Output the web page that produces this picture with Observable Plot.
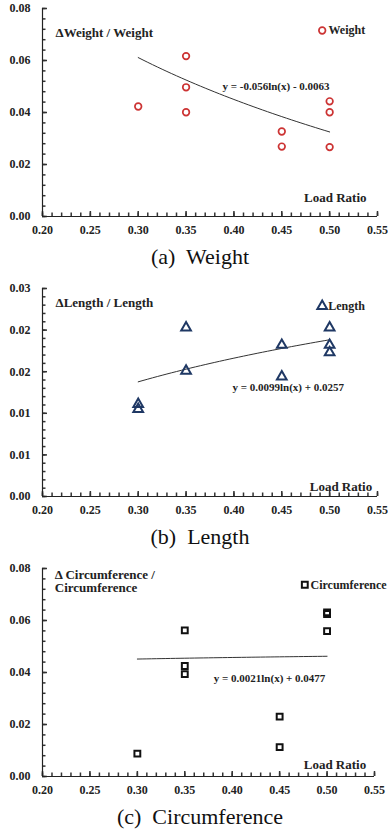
<!DOCTYPE html>
<html><head><meta charset="utf-8">
<script src="https://cdn.jsdelivr.net/npm/d3@7"></script>
<script src="https://cdn.jsdelivr.net/npm/@observablehq/plot@0.6"></script>
<style>
html,body{margin:0;padding:0;background:#fff;}
#root{position:relative;width:388px;height:838px;overflow:hidden;font-family:"Liberation Serif","Times New Roman",serif;}
.panel{position:absolute;left:0;}
.cap{position:absolute;left:0;width:400px;text-align:center;font-size:22px;line-height:22px;color:#111;white-space:pre;font-family:"Liberation Serif","Times New Roman",serif;}
</style></head><body><div id="root"></div>
<script>
// ---- shared x axis ----
const xTicks = [0.20, 0.25, 0.30, 0.35, 0.40, 0.45, 0.50, 0.55];
const xTickLabels = ["0.20", "0.25", "0.30", "0.35", "0.40", "0.45", "0.50", "0.55"];
const xMinorTicks = d3.range(0.20, 0.5501, 0.01);

// ---- (a) Weight ----
const weightLoad = [0.30, 0.35, 0.35, 0.35, 0.45, 0.45, 0.50, 0.50, 0.50];
const weightValues = [0.0423, 0.0617, 0.0497, 0.0401, 0.0327, 0.0269, 0.0443, 0.0401, 0.0267];
const weightTrend = [-0.056, -0.0063]; // y = a ln(x) + b
const weightYTicks = [0, 0.02, 0.04, 0.06, 0.08];
const weightYLabels = ["0.00", "0.02", "0.04", "0.06", "0.08"];

// ---- (b) Length ----
const lengthLoad = [0.30, 0.30, 0.35, 0.35, 0.45, 0.45, 0.50, 0.50, 0.50];
const lengthValues = [0.0111, 0.0105, 0.0203, 0.0151, 0.0182, 0.0144, 0.0203, 0.0182, 0.0173];
const lengthTrend = [0.0099, 0.0257];
const lengthYTicks = [0, 0.005, 0.010, 0.015, 0.020, 0.025];
const lengthYLabels = ["0.00", "0.01", "0.01", "0.02", "0.02", "0.03"];

// ---- (c) Circumference ----
const circLoad = [0.30, 0.35, 0.35, 0.35, 0.45, 0.45, 0.50, 0.50, 0.50];
const circValues = [0.0088, 0.0562, 0.0425, 0.0394, 0.0230, 0.0113, 0.0631, 0.0625, 0.0559];
const circTrend = [0.0021, 0.0477];
const circYTicks = [0, 0.02, 0.04, 0.06, 0.08];
const circYLabels = ["0.00", "0.02", "0.04", "0.06", "0.08"];

const FONT = '"Liberation Serif","Times New Roman",serif';
const AX = "#222";
const TICK = "#333";

function labelFor(ticks, labels) {
  return d => labels[ticks.findIndex(t => Math.abs(t - d) < 1e-9)];
}

function panel(cfg) {
  const pts = cfg.load.map((x, i) => ({x, y: cfg.values[i]}));
  const trend = d3.range(0.30, 0.50001, 0.005).map(x => ({x, y: cfg.trend[0] * Math.log(x) + cfg.trend[1]}));
  const txt = {fill: "#222", lineAnchor: "middle"};
  // inward ticks: zero-length rules at the axis, extended by negative insets
  const xTick = (ticks, len) => Plot.ruleX(ticks, {x: d => d, y1: () => 0, y2: () => 0, insetTop: -len, insetBottom: 0, stroke: TICK, strokeWidth: 1.5});
  const yTick = (ticks, len) => Plot.ruleY(ticks, {y: d => d, x1: () => 0.2, x2: () => 0.2, insetRight: -len, insetLeft: 0, stroke: TICK, strokeWidth: 1.5});
  return Plot.plot({
    width: 388, height: 240,
    marginLeft: 42, marginRight: cfg.mr, marginTop: 8, marginBottom: 24,
    x: {domain: [0.2, 0.55]},
    y: {domain: cfg.yDomain},
    style: {fontFamily: FONT, fontSize: "12px", fontWeight: "bold", color: "#222", background: "transparent", overflow: "visible"},
    marks: [
      xTick(xMinorTicks, 3.5),
      xTick(xTicks, 5),
      yTick(cfg.yMinor, 3.5),
      yTick(cfg.yTicks, 5),
      Plot.ruleY([0], {stroke: AX, strokeWidth: 1.2}),
      Plot.ruleX([0.2], {stroke: AX, strokeWidth: 1.2}),
      Plot.axisX({ticks: xTicks, tickSize: 0, tickPadding: 9, tickFormat: labelFor(xTicks, xTickLabels), fill: "#222", label: null}),
      Plot.axisY({ticks: cfg.yTicks, tickSize: 0, tickPadding: 12, tickFormat: labelFor(cfg.yTicks, cfg.yLabels), fill: "#222", label: null}),
      Plot.line(trend, {x: "x", y: "y", stroke: "#333", strokeWidth: 1}),
      Plot.dot(pts, {x: "x", y: "y", symbol: cfg.symbol, r: cfg.r, stroke: cfg.color, strokeWidth: cfg.sw, fill: "none"}),
      Plot.text([cfg.title], {...txt, text: d => d, frameAnchor: "top-left", dx: cfg.titlePos[0], dy: cfg.titlePos[1], textAnchor: "start", fontSize: 13, lineHeight: 1.03}),
      Plot.dot([0], {frameAnchor: "top-right", dx: cfg.legSym[0], dy: cfg.legSym[1], symbol: cfg.symbol, r: cfg.r, stroke: cfg.color, strokeWidth: cfg.sw, fill: "none"}),
      Plot.text([cfg.legend], {...txt, text: d => d, frameAnchor: "top-right", dx: cfg.legText[0], dy: cfg.legText[1], textAnchor: "start", fontSize: 12}),
      Plot.text([cfg.eq], {...txt, text: d => d, frameAnchor: "top-left", dx: cfg.eqPos[0], dy: cfg.eqPos[1], textAnchor: "start", fontSize: 11}),
      Plot.text(["Load Ratio"], {...txt, text: d => d, frameAnchor: "bottom-right", dx: cfg.lrPos[0], dy: cfg.lrPos[1], textAnchor: "end", fontSize: 13})
    ]
  });
}

const root = document.getElementById("root");
function place(el, top) { el.classList.add("panel"); el.style.top = top + "px"; root.appendChild(el); }
function caption(text, top) { const d = document.createElement("div"); d.className = "cap"; d.style.top = top + "px"; d.textContent = text; root.appendChild(d); }

place(panel({
  load: weightLoad, values: weightValues, trend: weightTrend,
  yDomain: [0, 0.08], yTicks: weightYTicks, yLabels: weightYLabels, yMinor: d3.range(0, 0.0801, 0.004),
  mr: 11, symbol: "circle", r: 3.3, sw: 1.7, color: "#cc3333",
  title: "\u0394Weight / Weight", titlePos: [13, 24],
  legend: "Weight", legSym: [-55.3, 22], legText: [-49, 22],
  eq: "y = -0.056ln(x) - 0.0063", eqPos: [180, 78],
  lrPos: [-11, -18.7]
}), 0);
caption("(a)  Weight", 246);

place(panel({
  load: lengthLoad, values: lengthValues, trend: lengthTrend,
  yDomain: [0, 0.025], yTicks: lengthYTicks, yLabels: lengthYLabels, yMinor: d3.range(0, 0.02501, 0.001),
  mr: 11, symbol: "triangle", r: 3.6, sw: 2, color: "#1f3864",
  title: "\u0394Length / Length", titlePos: [13, 14.7],
  legend: "Length", legSym: [-55.3, 17.7], legText: [-49.3, 17.7],
  eq: "y = 0.0099ln(x) + 0.0257", eqPos: [190, 99.3],
  lrPos: [-5.3, -10]
}), 280);
caption("(b)  Length", 526);

place(panel({
  load: circLoad, values: circValues, trend: circTrend,
  yDomain: [0, 0.08], yTicks: circYTicks, yLabels: circYLabels, yMinor: d3.range(0, 0.0801, 0.004),
  mr: 14, symbol: "square", r: 3.3, sw: 2, color: "#111",
  title: "\u0394 Circumference /\nCircumference", titlePos: [12.3, 13],
  legend: "Circumference", legSym: [-69.7, 16.3], legText: [-64, 16.3],
  eq: "y = 0.0021ln(x) + 0.0477", eqPos: [171.3, 110.3],
  lrPos: [-8.3, -11.7]
}), 560);
caption("(c)  Circumference", 806);
</script>
</body></html>
